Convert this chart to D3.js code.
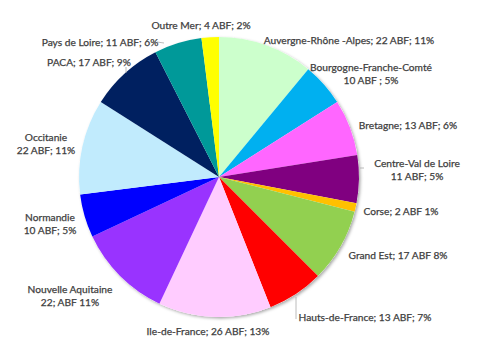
<!DOCTYPE html>
<html>
<head>
<meta charset="utf-8">
<script src="https://cdn.jsdelivr.net/npm/d3@7"></script>
<style>
  body { margin: 0; background: #fff; }
  text { font-family: Lato, "Liberation Sans", sans-serif; font-size: 10.2px; fill: #404040; stroke: #404040; stroke-width: 0.25px; }
</style>
</head>
<body>
<div id="chart"></div>
<script>
const width = 486, height = 355;

const regions = ["Auvergne-Rhône -Alpes", "Bourgogne-Franche-Comté", "Bretagne", "Centre-Val de Loire",
  "Corse", "Grand Est", "Hauts-de-France", "Ile-de-France", "Nouvelle Aquitaine", "Normandie",
  "Occitanie", "PACA", "Pays de Loire", "Outre Mer"];
const abf = [22, 10, 13, 11, 2, 17, 13, 26, 22, 10, 22, 17, 11, 4];
const labels = [
  ["Auvergne-Rhône -Alpes; 22 ABF; 11%"],
  ["Bourgogne-Franche-Comté", "10 ABF ; 5%"],
  ["Bretagne; 13 ABF; 6%"],
  ["Centre-Val de Loire", "11 ABF; 5%"],
  ["Corse; 2 ABF 1%"],
  ["Grand Est; 17 ABF 8%"],
  ["Hauts-de-France; 13 ABF; 7%"],
  ["Ile-de-France; 26 ABF; 13%"],
  ["Nouvelle Aquitaine", "22; ABF 11%"],
  ["Normandie", "10 ABF; 5%"],
  ["Occitanie", "22 ABF; 11%"],
  ["PACA; 17 ABF; 9%"],
  ["Pays de Loire; 11 ABF; 6%"],
  ["Outre Mer; 4 ABF; 2%"]
];
const colors = ["#CCFFCC", "#00B0F0", "#FF66FF", "#800080", "#FFC000", "#92D050", "#FF0000",
  "#FFCCFF", "#9933FF", "#0000FF", "#C1EBFD", "#002060", "#009999", "#FFFF00"];

// label centres (layout only)
const labelPos = [[349, 40], [371, 67], [408, 125], [417, 163], [401, 211], [398, 255], [365, 317],
  [208, 331], [70, 289], [50, 217], [46, 137], [89, 62], [100, 42], [201, 25]];

const cx = 219, cy = 177, r = 140;

const svg = d3.select("#chart").append("svg")
  .attr("width", width)
  .attr("height", height);

const defs = svg.append("defs");
const f = defs.append("filter").attr("id", "shadow")
  .attr("x", "-10%").attr("y", "-10%").attr("width", "120%").attr("height", "120%");
f.append("feDropShadow").attr("dx", 1.5).attr("dy", 1.5).attr("stdDeviation", 1.5)
  .attr("flood-color", "#000").attr("flood-opacity", 0.35);

const data = regions.map((name, i) => ({ name, value: abf[i], i }));

const pie = d3.pie().value(d => d.value).sort(null);
const arc = d3.arc().innerRadius(0).outerRadius(r);

const g = svg.append("g").attr("transform", `translate(${cx},${cy})`);

g.append("circle").attr("r", r).attr("fill", "#fff").attr("filter", "url(#shadow)");

g.selectAll("path")
  .data(pie(data))
  .enter().append("path")
    .attr("d", arc)
    .attr("fill", d => colors[d.data.i]);

// leader lines
const leaders = [[[157, 42], [164, 43]], [[126, 67], [126, 73]], [[360, 168], [364, 168]], [[296, 297], [296, 319]]];
svg.selectAll(".leader")
  .data(leaders)
  .enter().append("line")
    .attr("class", "leader")
    .attr("x1", d => d[0][0]).attr("y1", d => d[0][1])
    .attr("x2", d => d[1][0]).attr("y2", d => d[1][1])
    .attr("stroke", "#a6a6a6")
    .attr("stroke-width", 0.75);

const lbl = svg.selectAll(".lbl")
  .data(data)
  .enter().append("text")
    .attr("class", "lbl")
    .attr("text-anchor", "middle")
    .attr("x", d => labelPos[d.i][0])
    .attr("y", d => labelPos[d.i][1]);

lbl.each(function(d) {
  const lines = labels[d.i];
  d3.select(this).selectAll("tspan")
    .data(lines)
    .enter().append("tspan")
      .attr("x", labelPos[d.i][0])
      .attr("dy", (l, k) => k === 0 ? "0.35em" : 13)
      .text(l => l);
});
</script>
</body>
</html>
